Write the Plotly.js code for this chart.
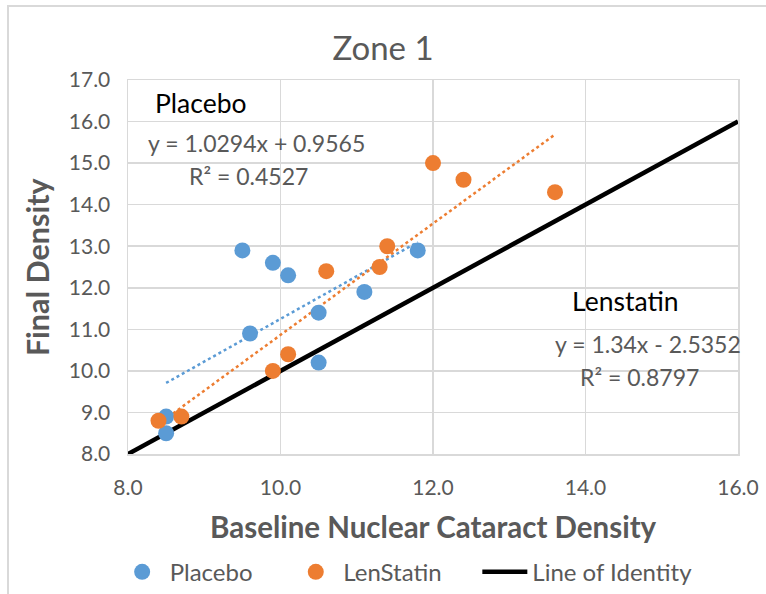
<!DOCTYPE html>
<html><head><meta charset="utf-8">
<script src="https://cdn.plot.ly/plotly-3.0.1.min.js"></script>
<style>
html,body{margin:0;padding:0;background:#fff;}
#frame{position:absolute;left:7px;top:5px;width:780px;height:600px;border-left:2px solid #d9d9d9;border-top:2px solid #d9d9d9;box-sizing:border-box;pointer-events:none;z-index:5;}
#chart{width:766px;height:594px;}
</style></head>
<body>
<div id="frame"></div>
<div id="chart"></div>
<script>
const placeboX = [8.5, 8.5, 9.5, 9.6, 9.9, 10.1, 10.5, 10.5, 11.1, 11.8];
const placeboY = [8.9, 8.5, 12.9, 10.9, 12.6, 12.3, 11.4, 10.2, 11.9, 12.9];
const lenX = [8.4, 8.7, 9.9, 10.1, 10.6, 11.3, 11.4, 12.0, 12.4, 13.6];
const lenY = [8.8, 8.9, 10.0, 10.4, 12.4, 12.5, 13.0, 15.0, 14.6, 14.3];
const placeboTrendX = [8.5, 11.8];
const placeboTrendY = [9.71, 13.10];
const lenTrendX = [8.4, 13.6];
const lenTrendY = [8.72, 15.69];
const identityX = [8, 16];
const identityY = [8, 16];
const xTicks = [8, 10, 12, 14, 16];
const yTicks = [8, 9, 10, 11, 12, 13, 14, 15, 16, 17];

const F = 'Lato, "Open Sans", sans-serif';
const gray = '#595959';
const blue = '#5B9BD5', orange = '#ED7D31';
const pad = '\u00A0'.repeat(5);

const traces = [
  {x: placeboTrendX, y: placeboTrendY, mode: 'lines', line: {color: blue, width: 2.5, dash: 'dot'}, showlegend: false, hoverinfo: 'skip'},
  {x: lenTrendX, y: lenTrendY, mode: 'lines', line: {color: orange, width: 2.5, dash: 'dot'}, showlegend: false, hoverinfo: 'skip'},
  {x: identityX, y: identityY, mode: 'lines', name: 'Line of Identity', line: {color: '#000', width: 4.5}, legendrank: 3},
  {x: placeboX, y: placeboY, mode: 'markers', name: 'Placebo' + pad, marker: {color: blue, size: 16}, legendrank: 1},
  {x: lenX, y: lenY, mode: 'markers', name: 'LenStatin' + pad, marker: {color: orange, size: 16}, legendrank: 2}
];

const layout = {
  width: 766, height: 594,
  margin: {l: 128, r: 28, t: 80, b: 140, autoexpand: false},
  paper_bgcolor: '#fff', plot_bgcolor: '#fff',
  font: {family: F, color: gray, size: 21},
  title: {text: 'Zone 1', font: {family: F, size: 33, color: gray}, x: 0.5, xanchor: 'center', y: 0.918, yanchor: 'middle'},
  xaxis: {
    range: [8, 16], tickvals: xTicks, ticktext: xTicks.map(v => v.toFixed(1)),
    showgrid: true, gridcolor: '#d9d9d9', gridwidth: 1.5, zeroline: false,
    showline: true, linecolor: '#d9d9d9', linewidth: 1.5, mirror: true,
    ticks: '', tickfont: {size: 21, color: gray}, ticklabelstandoff: 14
  },
  yaxis: {
    range: [8, 17], tickvals: yTicks, ticktext: yTicks.map(v => v.toFixed(1)),
    showgrid: true, gridcolor: '#d9d9d9', gridwidth: 1.5, zeroline: false,
    showline: true, linecolor: '#d9d9d9', linewidth: 1.5, mirror: true,
    ticks: '', tickfont: {size: 21, color: gray}, ticklabelstandoff: 12
  },
  legend: {orientation: 'h', x: 0.456, xanchor: 'center', y: -0.316, yanchor: 'middle', font: {size: 24, color: gray}, traceorder: 'normal', itemwidth: 45},
  annotations: [
    {xref: 'paper', yref: 'paper', x: 0.5, y: -0.195, text: '<b>Baseline Nuclear Cataract Density</b>', showarrow: false, xanchor: 'center', yanchor: 'middle', font: {size: 29.5, color: gray}},
    {xref: 'paper', yref: 'paper', x: -0.149, y: 0.5, text: '<b>Final Density</b>', textangle: -90, showarrow: false, xanchor: 'center', yanchor: 'middle', font: {size: 30.5, color: gray}},
    {xref: 'x', yref: 'y', x: 8.96, y: 16.45, text: 'Placebo', showarrow: false, font: {size: 26.5, color: '#000'}},
    {xref: 'x', yref: 'y', x: 9.69, y: 15.49, text: 'y = 1.0294x + 0.9565', showarrow: false, font: {size: 23, color: gray}},
    {xref: 'x', yref: 'y', x: 9.58, y: 14.69, text: 'R² = 0.4527', showarrow: false, font: {size: 23, color: gray}},
    {xref: 'x', yref: 'y', x: 14.52, y: 11.68, text: 'Lenstatin', showarrow: false, font: {size: 26.5, color: '#000'}},
    {xref: 'x', yref: 'y', x: 14.82, y: 10.65, text: 'y = 1.34x - 2.5352', showarrow: false, font: {size: 23, color: gray}},
    {xref: 'x', yref: 'y', x: 14.71, y: 9.85, text: 'R² = 0.8797', showarrow: false, font: {size: 23, color: gray}}
  ]
};
Plotly.newPlot('chart', traces, layout, {displayModeBar: false, staticPlot: true});
</script>
</body></html>
